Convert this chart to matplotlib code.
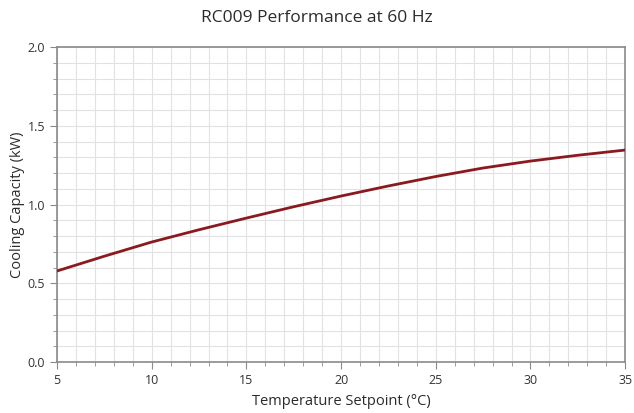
import matplotlib.pyplot as plt
from matplotlib.ticker import MultipleLocator

plt.rcParams['font.family'] = ['Open Sans', 'DejaVu Sans']

# values
setpoint_c = [5, 7.5, 10, 12.5, 15, 17.5, 20, 22.5, 25, 27.5, 30, 32.5, 35]
capacity_kw = [0.578, 0.672, 0.762, 0.840, 0.914, 0.986, 1.054, 1.118, 1.178, 1.232, 1.276, 1.313, 1.346]

fig = plt.figure(figsize=(6.34, 4.13), dpi=100)
ax = fig.add_axes([0.09, 0.1235, 0.896, 0.7625])

ax.plot(setpoint_c, capacity_kw, color="#8b1a1f", linewidth=2.0, zorder=3)

ax.set_xlim(5, 35)
ax.set_ylim(0, 2.0)
ax.xaxis.set_major_locator(MultipleLocator(5))
ax.xaxis.set_minor_locator(MultipleLocator(1))
ax.yaxis.set_major_locator(MultipleLocator(0.5))
ax.yaxis.set_minor_locator(MultipleLocator(0.1))
ax.yaxis.set_major_formatter(plt.FormatStrFormatter("%.1f"))

ax.grid(which="both", color="#e2e2e2", linewidth=0.8)
ax.set_axisbelow(True)
for s in ax.spines.values():
    s.set_color("#8a8a8a")
    s.set_linewidth(1.2)
ax.tick_params(which="major", direction="out", length=5, color="#8a8a8a", labelsize=9, labelcolor="#333333")
ax.tick_params(which="minor", direction="out", length=3, color="#8a8a8a")

ax.set_xlabel("Temperature Setpoint (°C)", fontsize=10.5, color="#2b2b2b", weight="medium", labelpad=5)
ax.set_ylabel("Cooling Capacity (kW)", fontsize=10.5, color="#2b2b2b", weight="medium", labelpad=2)
fig.suptitle("RC009 Performance at 60 Hz", fontsize=12.5, color="#2b2b2b", weight="medium", y=0.975)

fig.savefig("out.png", dpi=100)
